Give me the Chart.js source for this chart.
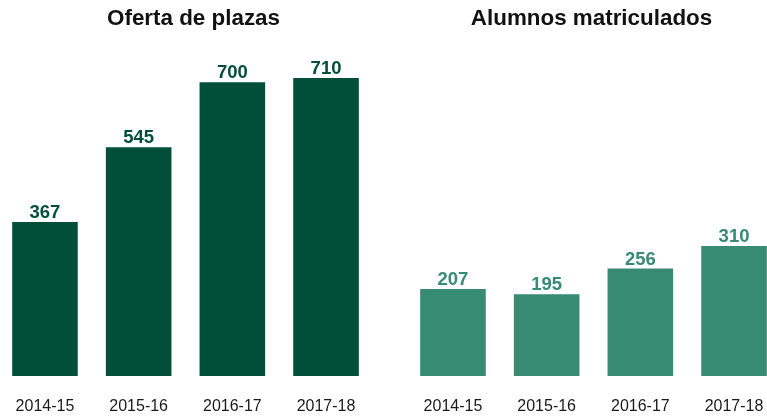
<!DOCTYPE html>
<html>
<head>
<meta charset="utf-8">
<script src="https://cdn.jsdelivr.net/npm/chart.js@4/dist/chart.umd.min.js"></script>
<style>
html,body{margin:0;padding:0;background:#fff;overflow:hidden;width:767px;height:416px;}
#wrap{position:relative;width:767px;height:416px;overflow:hidden;}
canvas{position:absolute;top:0;}
#c1{left:-5px;}
#c2{left:403px;}
</style>
</head>
<body>
<div id="wrap">
<canvas id="c1" width="381" height="416"></canvas>
<canvas id="c2" width="381" height="416"></canvas>
</div>
<script>
const categories = ["2014-15", "2015-16", "2016-17", "2017-18"];
const ofertaPlazas = [367, 545, 700, 710];
const alumnosMatriculados = [207, 195, 256, 310];
const titles = ["Oferta de plazas", "Alumnos matriculados"];
const colors = ["#024f39", "#388b73"];

const FONT = "'Liberation Sans', Arial, Helvetica, sans-serif";

const labelPlugin = {
  id: 'valueLabels',
  afterDatasetsDraw(chart) {
    const ctx = chart.ctx;
    const meta = chart.getDatasetMeta(0);
    const ds = chart.data.datasets[0];
    ctx.save();
    ctx.font = "bold 18.5px " + FONT;
    ctx.fillStyle = ds.backgroundColor;
    ctx.textAlign = 'center';
    ctx.textBaseline = 'alphabetic';
    meta.data.forEach((bar, i) => {
      ctx.fillText(String(ds.data[i]), bar.x, bar.y - 4);
    });
    ctx.restore();
  }
};

const titlePlugin = {
  id: 'panelTitle',
  afterDraw(chart) {
    const o = chart.options.plugins.panelTitle;
    const ctx = chart.ctx;
    ctx.save();
    ctx.font = "bold 22.4px " + FONT;
    ctx.fillStyle = '#111111';
    ctx.textAlign = 'center';
    ctx.textBaseline = 'alphabetic';
    ctx.fillText(o.text, o.x, 24.5);
    ctx.restore();
  }
};

function makeChart(id, values, title, color, titleX) {
  return new Chart(document.getElementById(id), {
    type: 'bar',
    data: {
      labels: categories,
      datasets: [{
        data: values,
        backgroundColor: color,
        borderWidth: 0,
        barPercentage: 0.7,
        categoryPercentage: 1.0
      }]
    },
    options: {
      responsive: false,
      animation: false,
      devicePixelRatio: 1,
      layout: { padding: { top: 40.2, bottom: 0, left: 0, right: 0 } },
      plugins: {
        legend: { display: false },
        tooltip: { enabled: false },
        title: { display: false },
        panelTitle: { text: title, x: titleX }
      },
      scales: {
        x: {
          grid: { display: false, drawTicks: false },
          border: { display: false },
          ticks: {
            color: '#1a1a1a',
            font: { family: FONT, size: 16 },
            padding: 21,
            maxRotation: 0,
            autoSkip: false
          },
          afterFit(scale) { scale.height = 40; }
        },
        y: {
          display: false,
          min: 0,
          max: 800
        }
      }
    },
    plugins: [labelPlugin, titlePlugin]
  });
}

makeChart('c1', ofertaPlazas, titles[0], colors[0], 198.5);
makeChart('c2', alumnosMatriculados, titles[1], colors[1], 188.5);
</script>
</body>
</html>
